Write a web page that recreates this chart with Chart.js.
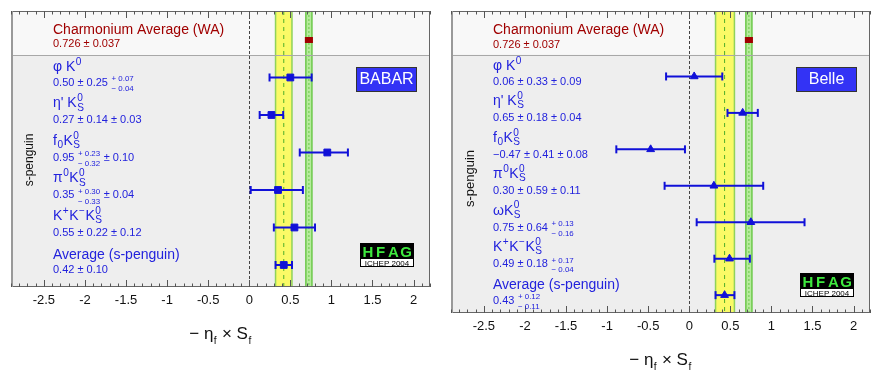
<!DOCTYPE html>
<html>
<head>
<meta charset="utf-8">
<script src="https://cdn.jsdelivr.net/npm/chart.js@4.4.0/dist/chart.umd.min.js"></script>
<style>
  html, body { margin: 0; padding: 0; background: #fff; }
  #wrap { position: relative; width: 881px; height: 388px; overflow: hidden; }
  #babar { position: absolute; left: 0; top: 0; }
  #belle { position: absolute; left: 440px; top: 0; }
</style>
</head>
<body>
<div id="wrap">
  <canvas id="babar" width="440" height="388"></canvas>
  <canvas id="belle" width="441" height="388"></canvas>
</div>
<script>
const FONT = '"Liberation Sans", Arial, Helvetica, sans-serif'
const BLUE = '#1010d8'
const TEXT_BLUE = '#2222dd'
const RED = '#a00000'

// x axis ticks
const tickValues = [-2.5, -2, -1.5, -1, -0.5, 0, 0.5, 1, 1.5, 2]
const tickLabels = ['-2.5', '-2', '-1.5', '-1', '-0.5', '0', '0.5', '1', '1.5', '2']

// world average from charmonium modes
const charmLabel = 'Charmonium Average (WA)'
const charmValue = 0.726
const charmError = 0.037

// BaBar
const babarModes = ['φ K^{0}', "η' K^{0}_{S}", 'f_{0}K^{0}_{S}', 'π^{0}K^{0}_{S}', 'K^{+}K^{−}K^{0}_{S}', 'Average (s-penguin)']
const babarValues = [0.50, 0.27, 0.95, 0.35, 0.55, 0.42]
const babarStatPlus = [0.25, 0.14, 0.23, 0.30, 0.22, 0.10]
const babarStatMinus = [0.25, 0.14, 0.32, 0.33, 0.22, 0.10]
const babarSystPlus = [0.07, 0.03, 0.10, 0.04, 0.12, 0]
const babarSystMinus = [0.04, 0.03, 0.10, 0.04, 0.12, 0]

// Belle
const belleModes = ['φ K^{0}', "η' K^{0}_{S}", 'f_{0}K^{0}_{S}', 'π^{0}K^{0}_{S}', 'ωK^{0}_{S}', 'K^{+}K^{−}K^{0}_{S}', 'Average (s-penguin)']
const belleValues = [0.06, 0.65, -0.47, 0.30, 0.75, 0.49, 0.43]
const belleStatPlus = [0.33, 0.18, 0.41, 0.59, 0.64, 0.18, 0.12]
const belleStatMinus = [0.33, 0.18, 0.41, 0.59, 0.64, 0.18, 0.11]
const belleSystPlus = [0.09, 0.04, 0.08, 0.11, 0.13, 0.17, 0]
const belleSystMinus = [0.09, 0.04, 0.08, 0.11, 0.16, 0.04, 0]

function fmt (v, d) {
  return (v < 0 ? '−' : '') + Math.abs(v).toFixed(d)
}

function errText (p, m, d) {
  if (p === 0 && m === 0) return ''
  if (p === m) return ' ± ' + fmt(p, d)
  return ' ^{+ ' + fmt(p, d) + '}_{− ' + fmt(m, d) + '}'
}

// tiny latex-ish parser: ^{..} and _{..}, stacked if adjacent
function parseRich (s) {
  const segs = []
  let buf = ''
  let i = 0
  while (i < s.length) {
    const c = s[i]
    if ((c === '^' || c === '_') && s[i + 1] === '{') {
      const end = s.indexOf('}', i)
      const txt = s.slice(i + 2, end)
      const key = c === '^' ? 'sup' : 'sub'
      const prev = segs[segs.length - 1]
      if (!buf && prev && prev.script && prev[key] === undefined) {
        prev[key] = txt
      } else {
        if (buf) { segs.push({ text: buf }); buf = '' }
        segs.push({ script: true, [key]: txt })
      }
      i = end + 1
    } else {
      buf += c
      i++
    }
  }
  if (buf) segs.push({ text: buf })
  return segs
}

// st = { scale, up, down } relative to font size
function drawRich (ctx, str, x, y, size, color, align, st) {
  st = Object.assign({ scale: 0.7, up: 0.45, down: 0.25 }, st)
  const segs = parseRich(str)
  const small = size * st.scale
  const big = size + 'px ' + FONT
  const sm = small + 'px ' + FONT
  let w = 0
  segs.forEach(s => {
    if (s.script) {
      ctx.font = sm
      s.w = Math.max(s.sup ? ctx.measureText(s.sup).width : 0, s.sub ? ctx.measureText(s.sub).width : 0) + 1
    } else {
      ctx.font = big
      s.w = ctx.measureText(s.text).width
    }
    w += s.w
  })
  let cx = align === 'center' ? x - w / 2 : x
  ctx.fillStyle = color
  ctx.textAlign = 'left'
  ctx.textBaseline = 'alphabetic'
  segs.forEach(s => {
    if (s.script) {
      ctx.font = sm
      if (s.sup) ctx.fillText(s.sup, cx + 0.5, y - size * st.up)
      if (s.sub) ctx.fillText(s.sub, cx + 0.5, y + size * st.down)
    } else {
      ctx.font = big
      ctx.fillText(s.text, cx, y)
    }
    cx += s.w
  })
}

const bandsPlugin = {
  id: 'bands',
  beforeDatasetsDraw (chart, args, o) {
    const { ctx, chartArea: a, scales: { x, y } } = chart
    const split = y.getPixelForValue(o.split)
    ctx.save()
    ctx.fillStyle = '#f8f8f8'
    ctx.fillRect(a.left, a.top, a.width, split - a.top)
    ctx.fillStyle = '#eeeeee'
    ctx.fillRect(a.left, split, a.width, a.bottom - split)

    // zero line
    const x0 = x.getPixelForValue(0)
    ctx.strokeStyle = '#444'
    ctx.lineWidth = 1
    ctx.setLineDash([3, 2])
    ctx.beginPath(); ctx.moveTo(Math.round(x0) + 0.5, a.top); ctx.lineTo(Math.round(x0) + 0.5, a.bottom); ctx.stroke()
    ctx.setLineDash([])

    // average band (yellow)
    const ya = x.getPixelForValue(o.avg - o.avgMinus)
    const yb = x.getPixelForValue(o.avg + o.avgPlus)
    ctx.fillStyle = '#fafa66'
    ctx.fillRect(ya, a.top, yb - ya, a.height)
    ctx.strokeStyle = '#8fd25a'
    ctx.lineWidth = 1.5
    ctx.beginPath()
    ctx.moveTo(ya, a.top); ctx.lineTo(ya, a.bottom)
    ctx.moveTo(yb, a.top); ctx.lineTo(yb, a.bottom)
    ctx.stroke()
    const yc = x.getPixelForValue(o.avg)
    ctx.strokeStyle = '#4fae2a'
    ctx.lineWidth = 1
    ctx.setLineDash([4, 4])
    ctx.beginPath(); ctx.moveTo(yc, a.top); ctx.lineTo(yc, a.bottom); ctx.stroke()
    ctx.setLineDash([])

    // charmonium band (green)
    const ga = x.getPixelForValue(charmValue - charmError)
    const gb = x.getPixelForValue(charmValue + charmError)
    ctx.fillStyle = '#b6eb9c'
    ctx.fillRect(ga, a.top, gb - ga, a.height)
    ctx.strokeStyle = '#6cc84a'
    ctx.lineWidth = 1.5
    ctx.beginPath()
    ctx.moveTo(ga, a.top); ctx.lineTo(ga, a.bottom)
    ctx.moveTo(gb, a.top); ctx.lineTo(gb, a.bottom)
    ctx.stroke()
    const gc = x.getPixelForValue(charmValue)
    ctx.lineWidth = 1
    ctx.setLineDash([2, 2])
    ctx.beginPath(); ctx.moveTo(gc, a.top); ctx.lineTo(gc, a.bottom); ctx.stroke()
    ctx.setLineDash([])

    // header separator
    ctx.strokeStyle = '#a8a8a8'
    ctx.lineWidth = 1
    ctx.beginPath(); ctx.moveTo(a.left, Math.round(split) + 0.5); ctx.lineTo(a.right, Math.round(split) + 0.5); ctx.stroke()
    ctx.restore()
  }
}

const decorPlugin = {
  id: 'decor',
  afterDatasetsDraw (chart, args, o) {
    const { ctx, chartArea: a, scales: { x, y } } = chart
    ctx.save()

    // frame
    ctx.strokeStyle = '#666'
    ctx.lineWidth = 1
    ctx.strokeRect(a.left + 0.5, a.top + 0.5, a.width - 1, a.height - 1)
    ctx.fillStyle = '#999'
    ctx.fillRect(a.left, a.top, 2, a.height)

    // inward ticks, top and bottom
    ctx.strokeStyle = '#555'
    ctx.beginPath()
    for (let k = -29; k <= 22; k++) {
      const px = Math.round(x.getPixelForValue(k / 10)) + 0.5
      const len = k % 5 === 0 ? 7 : 3.5
      ctx.moveTo(px, a.bottom); ctx.lineTo(px, a.bottom - len)
      ctx.moveTo(px, a.top); ctx.lineTo(px, a.top + len)
    }
    ctx.stroke()

    // tick labels
    ctx.fillStyle = '#111'
    ctx.font = '13px ' + FONT
    ctx.textAlign = 'center'
    ctx.textBaseline = 'middle'
    tickValues.forEach((v, i) => {
      ctx.fillText(tickLabels[i], x.getPixelForValue(v), a.bottom + 13)
    })

    // axis title
    drawRich(ctx, '− η_{f} × S_{f}', (a.left + a.right) / 2, a.bottom + 52, 17, '#111', 'center', { scale: 0.6, down: 0.3 })

    // y title
    ctx.save()
    ctx.translate(a.left + 19, y.getPixelForValue(o.titleY))
    ctx.rotate(-Math.PI / 2)
    ctx.fillStyle = '#111'
    ctx.font = o.titleSize + 'px ' + FONT
    ctx.textAlign = 'center'
    ctx.textBaseline = 'middle'
    ctx.fillText('s-penguin', 0, 0)
    ctx.restore()

    // labels
    const lx = a.left + 42
    const y0 = y.getPixelForValue(0)
    drawRich(ctx, charmLabel, lx, y0 - 6, 14, RED, 'left')
    drawRich(ctx, fmt(charmValue, 3) + ' ± ' + fmt(charmError, 3), lx, y0 + 7.5, 11, RED, 'left')
    o.modes.forEach((m, i) => {
      const py = y.getPixelForValue(i + 1)
      const sub = m.indexOf('_{') >= 0
      drawRich(ctx, m, lx, py - (sub ? 7.5 : 6), 14, TEXT_BLUE, 'left', { scale: 0.72, up: 0.45, down: 0.22 })
      const val = fmt(o.values[i], 2) + errText(o.sp[i], o.sm[i], 2) + errText(o.yp[i], o.ym[i], 2)
      drawRich(ctx, val, lx, py + 8.5, 11, TEXT_BLUE, 'left', { scale: 0.72, up: 0.42, down: 0.48 })
    })

    // experiment box
    const bx = a.right - 74
    ctx.fillStyle = '#3333f5'
    ctx.fillRect(bx, a.top + 56, 61, 25)
    ctx.strokeStyle = '#333'
    ctx.lineWidth = 1
    ctx.strokeRect(bx + 0.5, a.top + 56.5, 60, 24)
    ctx.fillStyle = '#fff'
    ctx.font = '16px ' + FONT
    ctx.textAlign = 'center'
    ctx.textBaseline = 'middle'
    ctx.fillText(o.experiment, bx + 30.5, a.top + 69)

    // HFAG logo
    const hx = a.right - 70
    const hy = a.bottom - o.logoUp
    ctx.fillStyle = '#000'
    ctx.fillRect(hx, hy, 54, 16)
    ctx.fillStyle = '#fff'
    ctx.fillRect(hx, hy + 16, 54, 8)
    ctx.strokeStyle = '#000'
    ctx.strokeRect(hx + 0.5, hy + 0.5, 53, 23)
    ctx.font = 'bold 15px ' + FONT
    ctx.fillStyle = '#3ee83e'
    ctx.textBaseline = 'alphabetic'
    ctx.textAlign = 'center'
    const letters = ['H', 'F', 'A', 'G']
    letters.forEach((c, i) => ctx.fillText(c, hx + 8 + i * 12.7, hy + 14))
    ctx.fillStyle = '#000'
    ctx.font = '8px ' + FONT
    ctx.fillText('ICHEP 2004', hx + 27, hy + 23)

    ctx.restore()
  }
}

function buildPanel (id, modes, values, sp, sm, yp, ym, opt) {
  const plus = values.map((v, i) => Math.hypot(sp[i], yp[i]))
  const minus = values.map((v, i) => Math.hypot(sm[i], ym[i]))
  const last = values.length - 1
  const datasets = []
  values.forEach((v, i) => {
    datasets.push({
      data: [{ x: v - minus[i], y: i + 1 }, { x: v + plus[i], y: i + 1 }],
      showLine: true,
      borderColor: BLUE,
      borderWidth: 2,
      pointStyle: 'line',
      rotation: 90,
      pointRadius: 4,
      pointBorderWidth: 2,
      pointBorderColor: BLUE
    })
  })
  datasets.push({
    data: [{ x: charmValue - charmError, y: 0 }, { x: charmValue + charmError, y: 0 }],
    showLine: true,
    borderColor: RED,
    borderWidth: 2,
    pointStyle: 'line',
    rotation: 90,
    pointRadius: 3,
    pointBorderWidth: 2,
    pointBorderColor: RED
  })
  datasets.push({
    data: values.map((v, i) => ({ x: v, y: i + 1 })),
    pointStyle: opt.marker,
    pointRadius: opt.markerSize,
    backgroundColor: BLUE,
    borderColor: BLUE,
    borderWidth: 1
  })
  datasets.push({
    data: [{ x: charmValue, y: 0 }],
    pointStyle: 'rect',
    pointRadius: 3.5,
    backgroundColor: RED,
    borderColor: RED,
    borderWidth: 1
  })

  return new Chart(document.getElementById(id), {
    type: 'scatter',
    data: { datasets },
    options: {
      responsive: false,
      animation: false,
      devicePixelRatio: 1,
      layout: { padding: opt.padding },
      scales: {
        x: { type: 'linear', min: -2.9, max: 2.2, display: false },
        y: { type: 'linear', min: opt.yMin, max: opt.yMax, reverse: true, display: false }
      },
      plugins: {
        legend: { display: false },
        tooltip: { enabled: false },
        bands: {
          split: 0.4,
          avg: values[last],
          avgPlus: plus[last],
          avgMinus: minus[last]
        },
        decor: {
          modes, values, sp, sm, yp, ym,
          experiment: opt.experiment,
          titleY: opt.titleY,
          titleSize: opt.titleSize,
          logoUp: opt.logoUp
        }
      }
    },
    plugins: [bandsPlugin, decorPlugin]
  })
}

buildPanel('babar', babarModes, babarValues, babarStatPlus, babarStatMinus, babarSystPlus, babarSystMinus, {
  experiment: 'BABAR',
  marker: 'rect',
  markerSize: 4.8,
  padding: { left: 11, right: 10, top: 11, bottom: 101 },
  yMin: -0.773,
  yMax: 6.587,
  titleY: 3.2,
  titleSize: 12,
  logoUp: 44
})

buildPanel('belle', belleModes, belleValues, belleStatPlus, belleStatMinus, belleSystPlus, belleSystMinus, {
  experiment: 'Belle',
  marker: 'triangle',
  markerSize: 4.5,
  padding: { left: 11, right: 11, top: 11, bottom: 75 },
  yMin: -0.796,
  yMax: 7.49,
  titleY: 3.8,
  titleSize: 13,
  logoUp: 40
})
</script>
</body>
</html>
